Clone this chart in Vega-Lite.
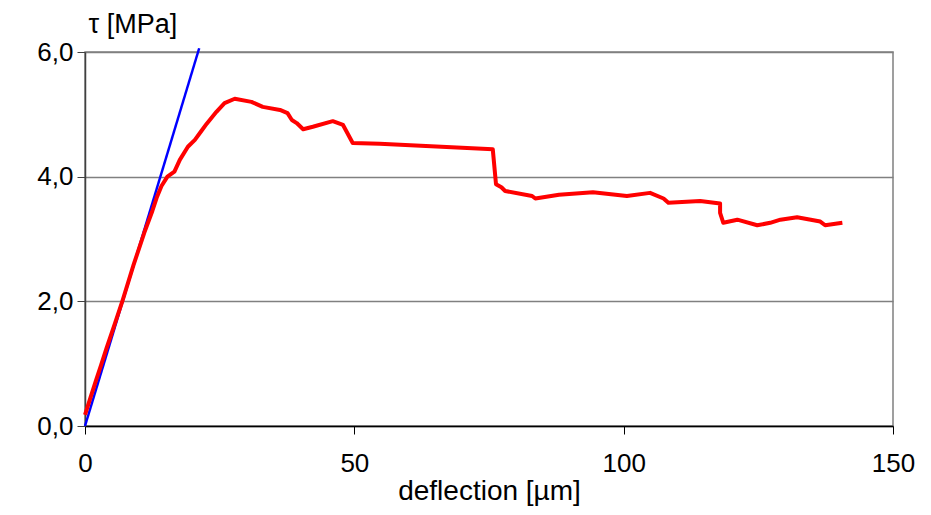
{
  "$schema": "https://vega.github.io/schema/vega-lite/v6.json",
  "width": 808,
  "height": 374,
  "autosize": "none",
  "padding": {"left": 85, "top": 52, "right": 38, "bottom": 89},
  "background": "white",
  "config": {
    "view": {"stroke": "#808080", "strokeWidth": 1.5},
    "font": "Liberation Sans"
  },
  "datasets": {
    "measured": [
      {"x": 0, "y": 0.18}, {"x": 1, "y": 0.45}, {"x": 2, "y": 0.72}, {"x": 3, "y": 0.98},
      {"x": 4, "y": 1.25}, {"x": 5.5, "y": 1.63}, {"x": 7, "y": 2.02}, {"x": 9, "y": 2.58},
      {"x": 11, "y": 3.1}, {"x": 12.5, "y": 3.45}, {"x": 13.3, "y": 3.66}, {"x": 14.2, "y": 3.85},
      {"x": 15.3, "y": 4.0}, {"x": 16.6, "y": 4.08}, {"x": 17.6, "y": 4.27}, {"x": 19.1, "y": 4.48},
      {"x": 20.4, "y": 4.59}, {"x": 21.5, "y": 4.72}, {"x": 22.6, "y": 4.85}, {"x": 24.4, "y": 5.04},
      {"x": 25.9, "y": 5.18}, {"x": 27.8, "y": 5.25}, {"x": 30.9, "y": 5.2}, {"x": 33.0, "y": 5.12},
      {"x": 36.2, "y": 5.07}, {"x": 37.6, "y": 5.02}, {"x": 38.4, "y": 4.91}, {"x": 39.3, "y": 4.86},
      {"x": 40.5, "y": 4.76}, {"x": 42.3, "y": 4.8}, {"x": 46.0, "y": 4.89}, {"x": 47.9, "y": 4.83},
      {"x": 49.7, "y": 4.54}, {"x": 54.7, "y": 4.53}, {"x": 75.7, "y": 4.44}, {"x": 76.3, "y": 3.88},
      {"x": 77.3, "y": 3.83}, {"x": 78.0, "y": 3.77}, {"x": 83.0, "y": 3.69}, {"x": 83.6, "y": 3.65},
      {"x": 88.0, "y": 3.71}, {"x": 94.3, "y": 3.75}, {"x": 100.6, "y": 3.69}, {"x": 104.9, "y": 3.74},
      {"x": 107.4, "y": 3.65}, {"x": 108.3, "y": 3.58}, {"x": 114.2, "y": 3.61}, {"x": 117.9, "y": 3.57},
      {"x": 117.9, "y": 3.42}, {"x": 118.5, "y": 3.26}, {"x": 121.1, "y": 3.31}, {"x": 124.8, "y": 3.22},
      {"x": 127.2, "y": 3.26}, {"x": 129.1, "y": 3.31}, {"x": 132.2, "y": 3.35}, {"x": 136.5, "y": 3.28},
      {"x": 137.4, "y": 3.22}, {"x": 140.6, "y": 3.26}
    ],
    "fit": [
      {"x": 0, "y": 0},
      {"x": 21.2, "y": 6.06}
    ]
  },
  "layer": [
    {
      "data": {"name": "fit"},
      "mark": {"type": "line", "color": "#0000ff", "strokeWidth": 2.5, "clip": false},
      "encoding": {
        "x": {"field": "x", "type": "quantitative"},
        "y": {"field": "y", "type": "quantitative"}
      }
    },
    {
      "data": {"name": "measured"},
      "mark": {"type": "line", "color": "#ff0000", "strokeWidth": 4, "strokeJoin": "round"},
      "encoding": {
        "x": {
          "field": "x", "type": "quantitative",
          "scale": {"domain": [0, 150], "nice": false, "zero": true},
          "axis": {
            "values": [0, 50, 100, 150],
            "title": "deflection [µm]",
            "titleFontSize": 28, "titleFontWeight": "normal", "titleColor": "black",
            "titlePadding": 1,
            "labelFontSize": 26, "labelColor": "black", "labelPadding": 16,
            "labelFlush": false, "labelOverlap": false,
            "tickSize": 8, "tickColor": "black", "domainColor": "black", "domainWidth": 1.5,
            "grid": false
          }
        },
        "y": {
          "field": "y", "type": "quantitative",
          "scale": {"domain": [0, 6], "nice": false},
          "axis": {
            "values": [0, 2, 4, 6],
            "labelExpr": "replace(format(datum.value, '.1f'), '.', ',')",
            "title": "τ  [MPa]",
            "titleAngle": 0, "titleAlign": "left", "titleBaseline": "alphabetic",
            "titleX": 3, "titleY": -20,
            "titleFontSize": 27, "titleFontWeight": "normal", "titleColor": "black",
            "labelFontSize": 26, "labelColor": "black", "labelPadding": 4,
            "labelFlush": false, "labelOverlap": false,
            "tickSize": 8, "tickColor": "#404040", "domainColor": "#404040", "domainWidth": 1.5,
            "grid": true, "gridColor": "#808080", "gridWidth": 1.5
          }
        }
      }
    }
  ]
}
